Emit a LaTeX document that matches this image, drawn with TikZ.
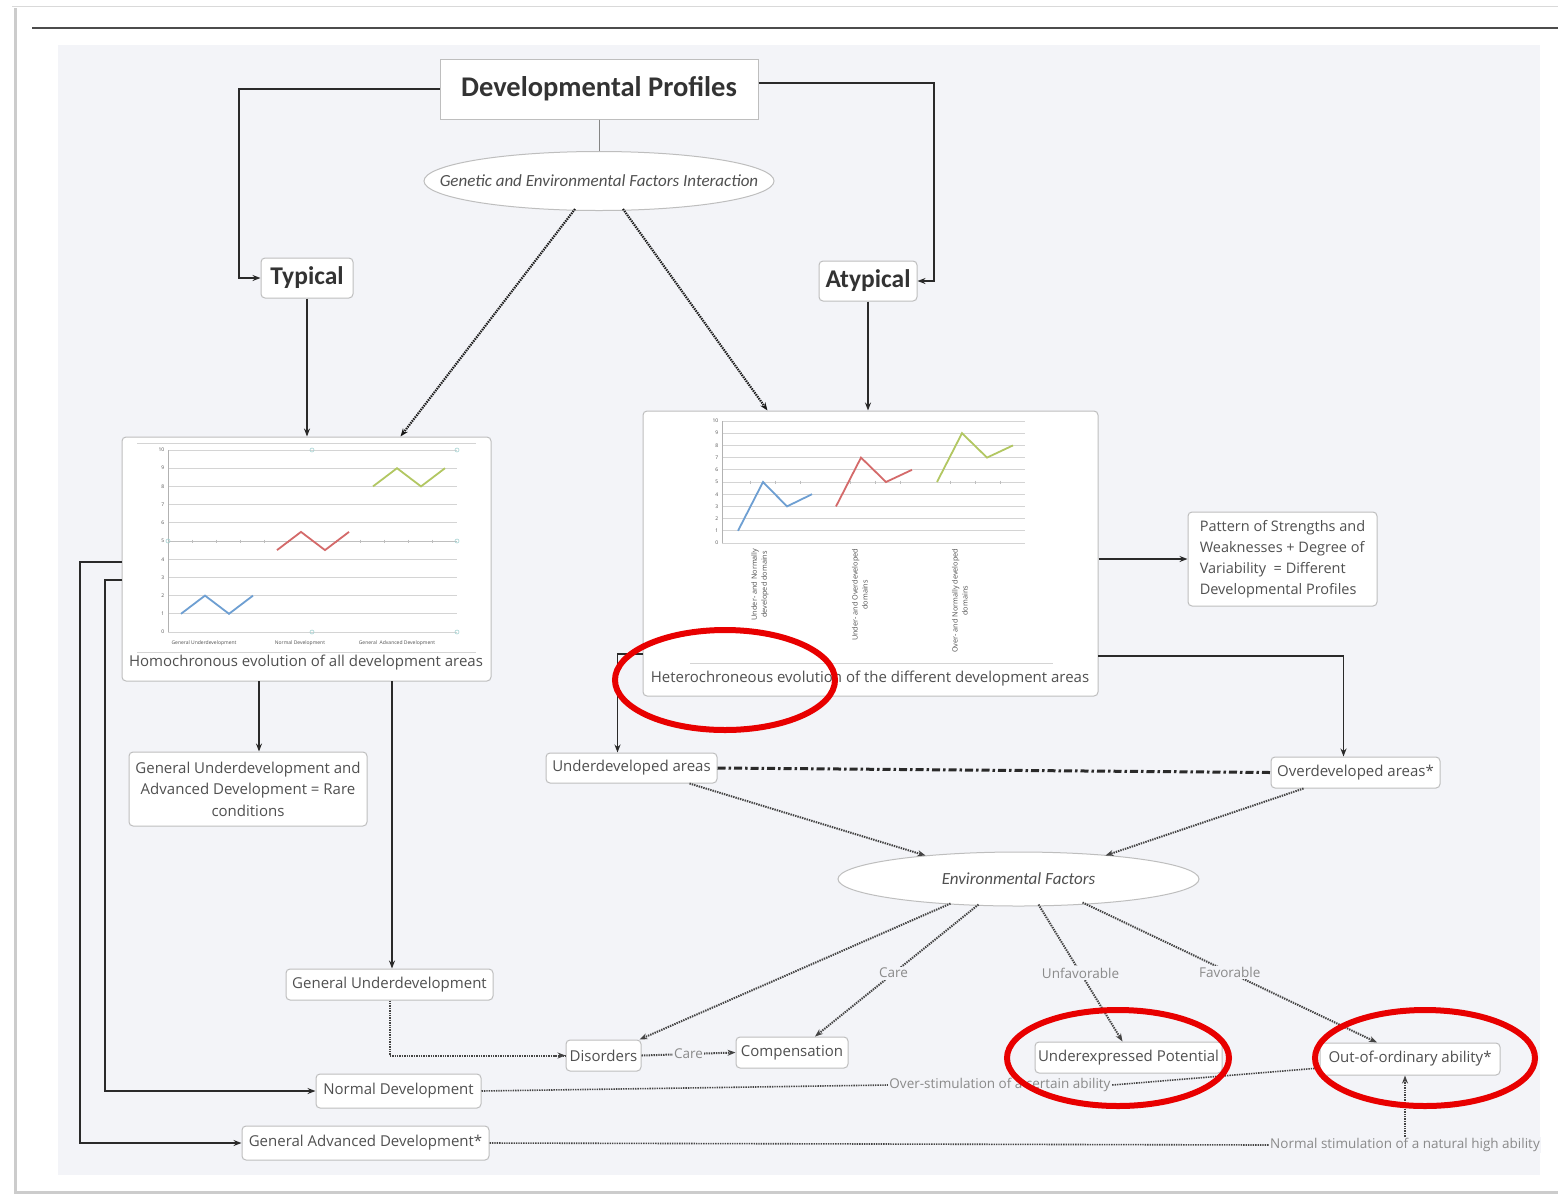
\documentclass[tikz,border=0pt]{standalone}
\usepackage{fontspec}
\setmainfont{Open Sans}
\newfontfamily\carl{Carlito}
\usetikzlibrary{arrows.meta,shapes.geometric,calc}
\definecolor{bg}{HTML}{F3F4F8}
\definecolor{bordc}{HTML}{BEBEBE}
\definecolor{txt}{HTML}{505050}
\definecolor{lnc}{HTML}{2A2A2A}
\definecolor{dotc}{HTML}{444444}
\definecolor{lblc}{HTML}{8A8A8A}
\definecolor{cblue}{HTML}{6E9FD2}
\definecolor{cred}{HTML}{D46A6A}
\definecolor{cgreen}{HTML}{B2C762}
\definecolor{gridc}{HTML}{D4D4D4}
\definecolor{annot}{HTML}{E80000}
\begin{document}
\begin{tikzpicture}[x=1pt,y=-1pt,
 box/.style={draw=bordc,fill=white,rounded corners=4pt,line width=1pt,text=txt,
   font=\fontsize{15}{21.5}\selectfont,inner sep=2pt,align=center},
 ttl/.style={box,text=black!80,font=\carl\bfseries\fontsize{25.5}{30}\selectfont},
 ell/.style={ellipse,draw=bordc,fill=white,line width=1pt,inner sep=0pt},
 elltxt/.style={text=txt,inner sep=0pt,font=\carl\itshape\fontsize{17}{20}\selectfont},
 arr/.style={draw=lnc,line width=1.7pt,-{Stealth[length=8pt,width=6pt]}},
 dotln/.style={draw=dotc,line width=2pt,dash pattern=on 1.4pt off 1pt},
 dotarr/.style={dotln,-{Stealth[length=8pt,width=6pt]}},
 lbl/.style={font=\fontsize{13.5}{15}\selectfont,text=lblc,fill=bg,inner sep=1.5pt},
 tiny/.style={font=\fontsize{5}{6}\selectfont,text=txt,inner sep=0.5pt},
 gridln/.style={draw=gridc,line width=0.7pt},
 annotell/.style={draw=annot,line width=6pt}
]
\useasboundingbox (0,0) rectangle (1558,1195);
\fill[white] (0,0) rectangle (1558,1195);
% frame
\draw[black!15,line width=1pt] (12,6) -- (1558,6);
\draw[black!20,line width=3pt] (15,8) -- (15,1192) -- (1558,1192);
\draw[black!70,line width=1.8pt] (32,28) -- (1558,28);
\fill[bg] (58,45) rectangle (1540,1175);

% ---------------- nodes
\node[draw=bordc,fill=white,line width=1pt,minimum width=318pt,minimum height=60pt,
  font=\carl\bfseries\fontsize{28.5}{32}\selectfont,text=black!80] (dp) at (599,89) {Developmental Profiles};
\node[ell,minimum width=350pt,minimum height=59pt] (gen) at (599,181) {};
\node[elltxt] (gentxt) at (gen.center) {Genetic and Environmental Factors Interaction};
\node[ttl,minimum width=92pt,minimum height=40pt] (typ) at (307,278) {Typical};
\node[ttl,minimum width=98pt,minimum height=40pt] (atyp) at (868,281) {Atypical};

\node[box,minimum width=369pt,minimum height=244pt] (lc) at (306.5,559) {};
\node[box,minimum width=455pt,minimum height=285pt] (rc) at (870.5,553.5) {};

\node[box,minimum width=189pt,minimum height=94pt,align=left,font=\fontsize{14.5}{21}\selectfont] (pat) at (1282.5,559)
  {Pattern of Strengths and\\Weaknesses + Degree of\\Variability \ = Different\\Developmental Profiles};
\node[box,minimum width=171pt,minimum height=30pt] (ud) at (631.5,768) {Underdeveloped areas};
\node[box,minimum width=169pt,minimum height=31pt] (od) at (1355.5,772.5) {Overdeveloped areas*};
\node[ell,minimum width=361pt,minimum height=54pt] (env) at (1018.5,879) {};
\node[elltxt] (envtxt) at (env.center) {Environmental Factors};
\node[box,minimum width=75pt,minimum height=31pt] (dis) at (603.5,1055.5) {Disorders};
\node[box,minimum width=112pt,minimum height=31pt] (comp) at (792,1052.5) {Compensation};
\node[box,minimum width=187pt,minimum height=31pt] (uep) at (1128.5,1057.5) {Underexpressed Potential};
\node[box,minimum width=180pt,minimum height=32pt] (ooa) at (1410,1059) {Out-of-ordinary ability*};
\node[box,minimum width=207pt,minimum height=31pt] (gu) at (389.5,984.5) {General Underdevelopment};
\node[box,minimum width=238pt,minimum height=74pt] (rare) at (248,789)
  {General Underdevelopment and\\Advanced Development = Rare\\conditions};
\node[box,minimum width=165pt,minimum height=34pt] (nd) at (398.5,1091) {Normal Development};
\node[box,minimum width=247pt,minimum height=34pt] (gad) at (365.5,1143) {General Advanced Development*};

% ---------------- left chart
\draw[gridc,line width=0.8pt] (137,443) -- (476,443);
\draw[gridc,line width=0.8pt] (137,652) -- (476,652);
\foreach \k in {0,...,10}{
  \draw[gridln] (168,{632-18.2*\k}) -- (457,{632-18.2*\k});
  \node[tiny,anchor=east] (lyl\k) at (165,{632-18.2*\k}) {\k};
}
\draw[black!30,line width=0.7pt] (168,450) -- (168,632);
\draw[black!25,line width=0.7pt] (168,541) -- (457,541);
\foreach \t in {192,216,240,264,288,336,360,384,408,432}{\draw[black!25,line width=0.6pt] (\t,539.5) -- (\t,542.5);}
\foreach \p in {(312,450),(168,541),(457,541),(312,632),(457,450),(457,632)}{\draw[teal!35,line width=0.6pt] \p circle (2pt);}
\node[tiny] (lxa) at (204,643) {General Underdevelopment};
\node[tiny] (lxb) at (300,643) {Normal Development};
\node[tiny] (lxc) at (397,643) {General \ Advanced Development};
\draw[cblue,line width=1.8pt] (181,613.8) -- (205,595.6) -- (229,613.8) -- (253,595.6);
\draw[cred,line width=1.8pt] (277,550.1) -- (301,531.9) -- (325,550.1) -- (349,531.9);
\draw[cgreen,line width=1.8pt] (373,486.4) -- (397,468.2) -- (421,486.4) -- (445,468.2);
\node[text=txt,font=\fontsize{15}{17}\selectfont,inner sep=0pt] (lcap) at (306,663) {Homochronous evolution of all development areas};

% ---------------- right chart
\foreach \k in {0,...,10}{
  \draw[gridln] (722,{543-12.2*\k}) -- (1025,{543-12.2*\k});
  \node[tiny,anchor=east] (ryl\k) at (719,{543-12.2*\k}) {\k};
}
\draw[black!30,line width=0.7pt] (722,421) -- (722,543);
\foreach \t in {750,775,800,850,875,900,950,975,1000}{\draw[black!25,line width=0.6pt] (\t,480.5) -- (\t,483.5);}
\draw[cblue,line width=1.8pt] (738,530.8) -- (763,482) -- (787,506.4) -- (812,494.2);
\draw[cred,line width=1.8pt] (836,506.4) -- (861,457.6) -- (886,482) -- (912,469.8);
\draw[cgreen,line width=1.8pt] (937,482) -- (962,433.2) -- (987,457.6) -- (1013,445.4);
\node[tiny,rotate=90,anchor=east,align=center,font=\fontsize{7.3}{10}\selectfont] (rxa) at (760,548) {Under- and Normally\\developed domains};
\node[tiny,rotate=90,anchor=east,align=center,font=\fontsize{7.3}{10}\selectfont] (rxb) at (860,548) {Under- and Overdeveloped\\domains};
\node[tiny,rotate=90,anchor=east,align=center,font=\fontsize{7.3}{10}\selectfont] (rxc) at (960,548) {Over- and Normally developed\\domains};
\draw[gridc,line width=0.8pt] (690,663) -- (1053,663);
\node[text=txt,font=\fontsize{15}{17}\selectfont,inner sep=0pt] (rcap) at (870,679) {Heterochroneous evolution of the different development areas};

% ---------------- connectors
\draw[bordc!70!black,line width=0.8pt] (dp.south) -- (gen.north);
\draw[arr] (dp.west) -- (239,89) |- (typ.west);
\draw[arr] ($(dp.east)+(0,-6)$) -- (934,83) |- (atyp.east);
\draw[arr] (typ.south) -- (typ.south |- lc.north);
\draw[arr] (atyp.south) -- (atyp.south |- rc.north);
\draw[dotarr,draw=black!90,line width=2.2pt] ($(gen.south)+(-24,-2)$) -- ($(lc.north east)+(-91,0)$);
\draw[dotarr,draw=black!90,line width=2.2pt] ($(gen.south)+(24,-2)$) -- ($(rc.north west)+(125,0)$);

\coordinate (lcA) at (259,681);
\coordinate (lcB) at (392,681);
\coordinate (lcC) at (122,580);
\coordinate (lcD) at (122,562);
\draw[arr] (lcA) -- (lcA |- rare.north);
\draw[arr] (lcB) -- (lcB |- gu.north);
\draw[arr] (lcC) -- (105,580) |- (nd.west);
\draw[arr] (lcD) -- (80,562) |- (gad.west);

\draw[arr] (rc.east |- pat.west) -- (pat.west);
\coordinate (rcA) at (1098,656);
\coordinate (rcB) at (643,654);
\draw[arr] (rcA) -| ($(od.north)+(-12,0)$);
\draw[arr] (rcB) -| ($(ud.north)+(-14,0)$);

\draw[draw=lnc,line width=3pt,dash pattern=on 8pt off 3pt on 2.5pt off 3pt] (ud.east) -- (od.west);
\draw[dotarr] ($(ud.south)+(58,0)$) -- ($(env.north)+(-93,4)$);
\draw[dotarr] ($(od.south)+(-52,0)$) -- ($(env.north)+(87,4)$);

\draw[dotarr] ($(env.south)+(-68,-3)$) -- ($(dis.north east)+(-2,0)$);
\draw[dotarr] ($(env.south)+(-40,-2)$) -- node[lbl,pos=0.52] (lcare) {Care} ($(comp.north)+(23,0)$);
\draw[dotarr] ($(env.south)+(20,-2)$) -- node[lbl,pos=0.5] (lunf) {Unfavorable} ($(uep.north)+(-6,0)$);
\draw[dotarr] ($(env.south)+(64,-4)$) -- node[lbl,pos=0.5] (lfav) {Favorable} ($(ooa.north)+(-33,0)$);

\draw[dotln] (gu.south) |- (dis.west);
\draw[dotarr] (dis.west) ++(-12,0) -- (dis.west);
\draw[dotarr] (dis.east) -- node[lbl] (lcare2) {Care} (comp.west);

\node[lbl] (osl) at (1000,1085) {Over-stimulation of a certain ability};
\draw[dotln,line width=1.6pt] (nd.east) -- (osl.west);
\draw[dotln,line width=1.6pt] (osl.east) -- ($(ooa.west)+(0,9)$);
\node[lbl] (nsl) at (1405,1145) {Normal stimulation of a natural high ability};
\draw[dotln,line width=1.6pt] (gad.east) -- (nsl.west);
\draw[dotarr,line width=1.6pt] (nsl.north) -- (nsl.north |- ooa.south);

% ---------------- red annotations
\draw[annotell] (725,680) ellipse [x radius=110pt, y radius=50pt];
\draw[annotell] (1118,1058) ellipse [x radius=111pt, y radius=48pt];
\draw[annotell] (1425,1058) ellipse [x radius=110pt, y radius=48pt];
\end{tikzpicture}
\end{document}
